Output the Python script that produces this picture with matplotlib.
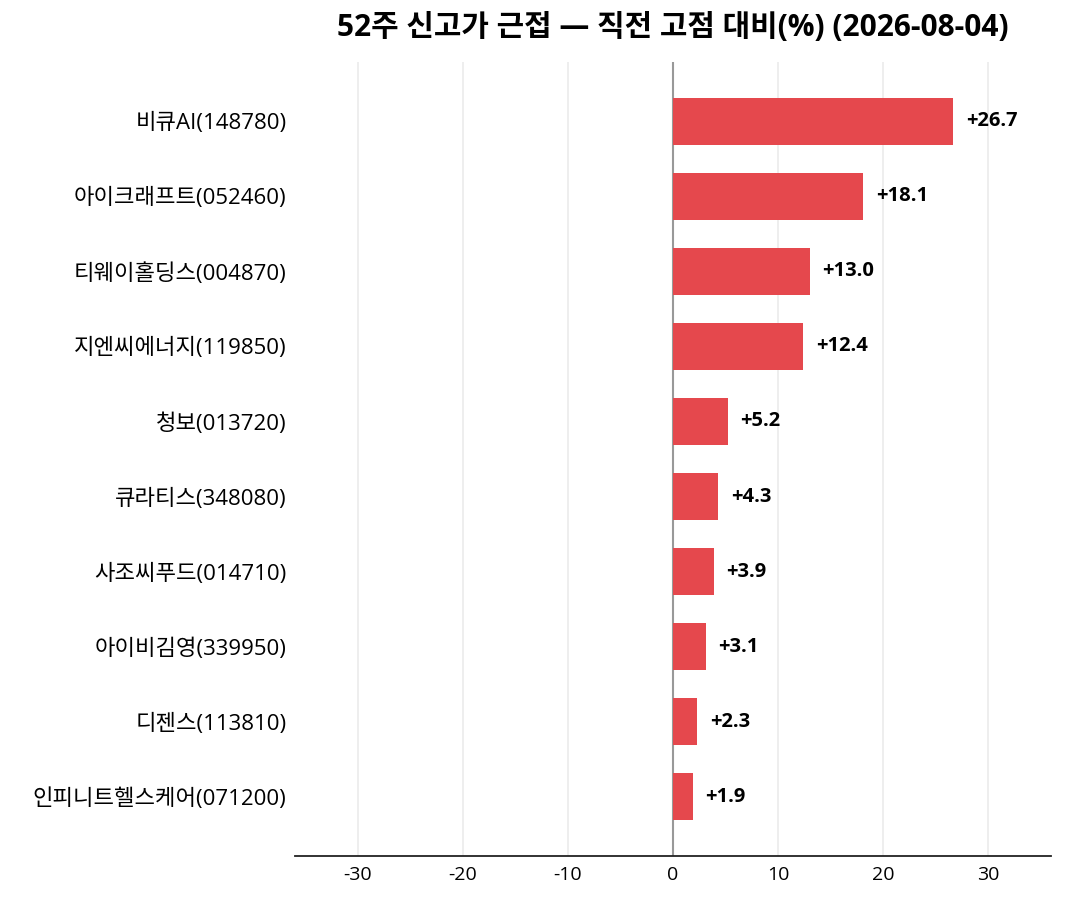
import matplotlib
matplotlib.use("Agg")
import matplotlib.pyplot as plt

plt.rcParams['font.family'] = ['Open Sans', 'Noto Sans CJK KR', 'DejaVu Sans']

names = ['비큐AI(148780)', '아이크래프트(052460)', '티웨이홀딩스(004870)', '지엔씨에너지(119850)',
         '청보(013720)', '큐라티스(348080)', '사조씨푸드(014710)', '아이비김영(339950)',
         '디젠스(113810)', '인피니트헬스케어(071200)']
values = [26.7, 18.1, 13.0, 12.4, 5.2, 4.3, 3.9, 3.1, 2.3, 1.9]
xticks = [-30, -20, -10, 0, 10, 20, 30]

fig = plt.figure(figsize=(10.65, 9), dpi=100)
ax = fig.add_axes([295 / 1065, 44 / 900, 756 / 1065, 794 / 900])

ypos = list(range(len(values)))[::-1]
ax.barh(ypos, values, height=0.62, color='#e5484d', zorder=3)
for y, v in zip(ypos, values):
    ax.text(v + 1.2, y, f'+{v:.1f}', va='center', ha='left',
            fontsize=14.5, fontweight='bold', zorder=4)

ax.set_yticks(ypos)
ax.set_yticklabels(names, fontsize=16)
ax.set_xticks(xticks)
ax.set_xticklabels([str(t) for t in xticks], fontsize=14)
ax.set_xlim(-36, 36)
ax.set_ylim(-0.79, 9.79)
ax.tick_params(length=0, pad=7)
ax.tick_params(axis='y', pad=6)

ax.grid(axis='x', color='#ebebeb', linewidth=1.2, zorder=0)
ax.axvline(0, color='#999999', linewidth=1.5, zorder=2)
for s in ['top', 'right', 'left']:
    ax.spines[s].set_visible(False)
ax.spines['bottom'].set_color('#222222')
ax.spines['bottom'].set_linewidth(1.3)

fig.text(673 / 1065, 1 - 28 / 900, '52주 신고가 근접 — 직전 고점 대비(%) (2026-08-04)',
         ha='center', va='center', fontsize=21.5, fontweight='bold')

fig.savefig('out.png', dpi=100)
